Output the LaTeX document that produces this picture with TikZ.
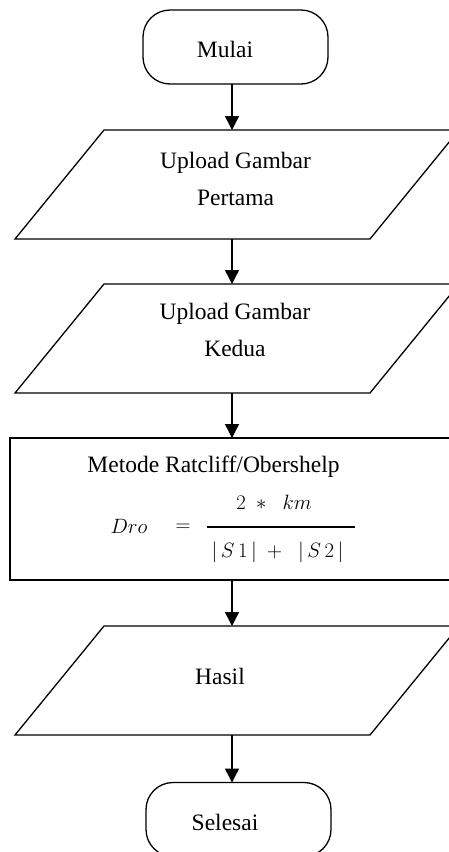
\documentclass[tikz,border=0pt]{standalone}
\usepackage{fontspec}
\setmainfont{Liberation Serif}
\usetikzlibrary{arrows.meta,calc}
\newcommand\pgdraw[1]{\draw[pgline] ([xshift=44.5pt]#1.north west) -- ([xshift=44.5pt]#1.north east) -- ([xshift=-44.5pt]#1.south east) -- ([xshift=-44.5pt]#1.south west) -- cycle;}
\begin{document}
\begin{tikzpicture}[x=1pt,y=-1pt,
  term/.style={draw, line width=1.3pt, rounded corners=27pt, minimum width=185pt, minimum height=74pt, inner sep=0, outer sep=0},
  iobox/.style={minimum width=355pt, minimum height=109pt, inner sep=0, outer sep=0},
  procbox/.style={draw, line width=1.8pt, minimum width=450pt, minimum height=142pt, inner sep=0, outer sep=0},
  txt/.style={align=center, inner sep=0, font=\fontsize{23.5}{37}\selectfont},
  mth/.style={inner sep=0, font=\fontsize{22}{26}\selectfont},
  arr/.style={line width=1.4pt, -{Triangle[length=14pt,width=14pt]}},
  pgline/.style={line width=1.3pt, line join=miter}
]
\useasboundingbox (0,0) rectangle (449,852);
\clip (0,0) rectangle (449,852);

% shapes
\node[term] (start) at (235.5,47) {};
\node[iobox] (in1) at (237,184.5) {};
\pgdraw{in1}
\node[iobox] (in2) at (237,338.5) {};
\pgdraw{in2}
\node[procbox] (proc) at (235,509) {};
\node[iobox] (out) at (237,680.5) {};
\pgdraw{out}
\node[term] (stop) at (238.5,819.5) {};

% texts
\node[txt] (startt) at (225,49.5) {Mulai};
\node[txt] (in1t) at (235.5,178.5) {Upload Gambar\\Pertama};
\node[txt] (in2t) at (235,330) {Upload Gambar\\Kedua};
\node[txt] (proct) at (213.5,467) {Metode Ratcliff/Obershelp};
\node[mth] (dro) at (129,526) {$Dro$};
\node[mth] (eq) at (183,528) {$=$};
\node[mth] (num) at (274,502) {$2\;\ast\;\;km$};
\node[mth] (den) at (277.5,552) {$|\,S\,1\,|\;+\;\;|\,S\,2\,|$};
\coordinate (barl) at (207,527);
\coordinate (barr) at (355,527);
\draw[line width=2.2pt] (barl) -- (barr);
\node[txt] (outt) at (220,676) {Hasil};
\node[txt] (stopt) at (225,822) {Selesai};

% connectors
\coordinate (ax) at (232,0);
\draw[arr] (start.south -| ax) -- (in1.north -| ax);
\draw[arr] (in1.south -| ax) -- (in2.north -| ax);
\draw[arr] (in2.south -| ax) -- (proc.north -| ax);
\draw[arr] (proc.south -| ax) -- (out.north -| ax);
\draw[arr] (out.south -| ax) -- (stop.north -| ax);
\end{tikzpicture}
\end{document}
